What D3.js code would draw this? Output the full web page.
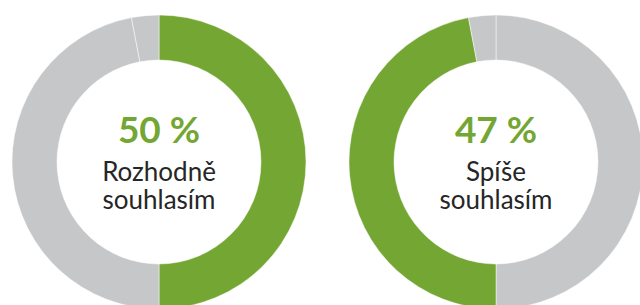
<!DOCTYPE html>
<html>
<head>
<meta charset="utf-8">
<script src="https://cdn.jsdelivr.net/npm/d3@7"></script>
<style>
  body { margin: 0; background: #fff; }
  svg { display: block; }
</style>
</head>
<body>
<div id="chart"></div>
<script>
// answer shares, in percent
var categories = ["Rozhodně souhlasím", "Spíše souhlasím", "Ostatní"];
var shares = [50, 47, 3];
// which category each donut highlights
var highlighted = [0, 1];

var w = 640, h = 305;
var green = "#74a633", grey = "#c6c7c9";

var svg = d3.select("#chart").append("svg")
    .attr("width", w)
    .attr("height", h);

var cx = d3.scalePoint().domain(highlighted).range([159, 496]);
var cy = 162, outerR = 147, innerR = 102;

var pie = d3.pie().sort(null).value(function (d) { return d; });
var arc = d3.arc().innerRadius(innerR).outerRadius(outerR);

highlighted.forEach(function (hi) {
    var g = svg.append("g")
        .attr("transform", "translate(" + cx(hi) + "," + cy + ")");

    g.selectAll("path")
        .data(pie(shares))
        .enter().append("path")
        .attr("d", arc)
        .attr("fill", function (d, i) { return i == hi ? green : grey; })
        .attr("stroke", "#fff")
        .attr("stroke-opacity", 0.6)
        .attr("stroke-width", 0.8);

    g.append("text")
        .attr("y", -19)
        .attr("text-anchor", "middle")
        .style("font-family", "Lato, 'Open Sans', sans-serif")
        .style("font-weight", "bold")
        .style("font-size", "37px")
        .attr("fill", green)
        .text(shares[hi] + " %");

    var words = categories[hi].split(" ");
    g.selectAll(".lbl")
        .data(words)
        .enter().append("text")
        .attr("class", "lbl")
        .attr("y", function (d, i) { return 19 + i * 28; })
        .attr("text-anchor", "middle")
        .style("font-family", "Lato, 'Open Sans', sans-serif")
        .style("font-size", "26px")
        .attr("fill", "#262626")
        .text(String);
});
</script>
</body>
</html>
